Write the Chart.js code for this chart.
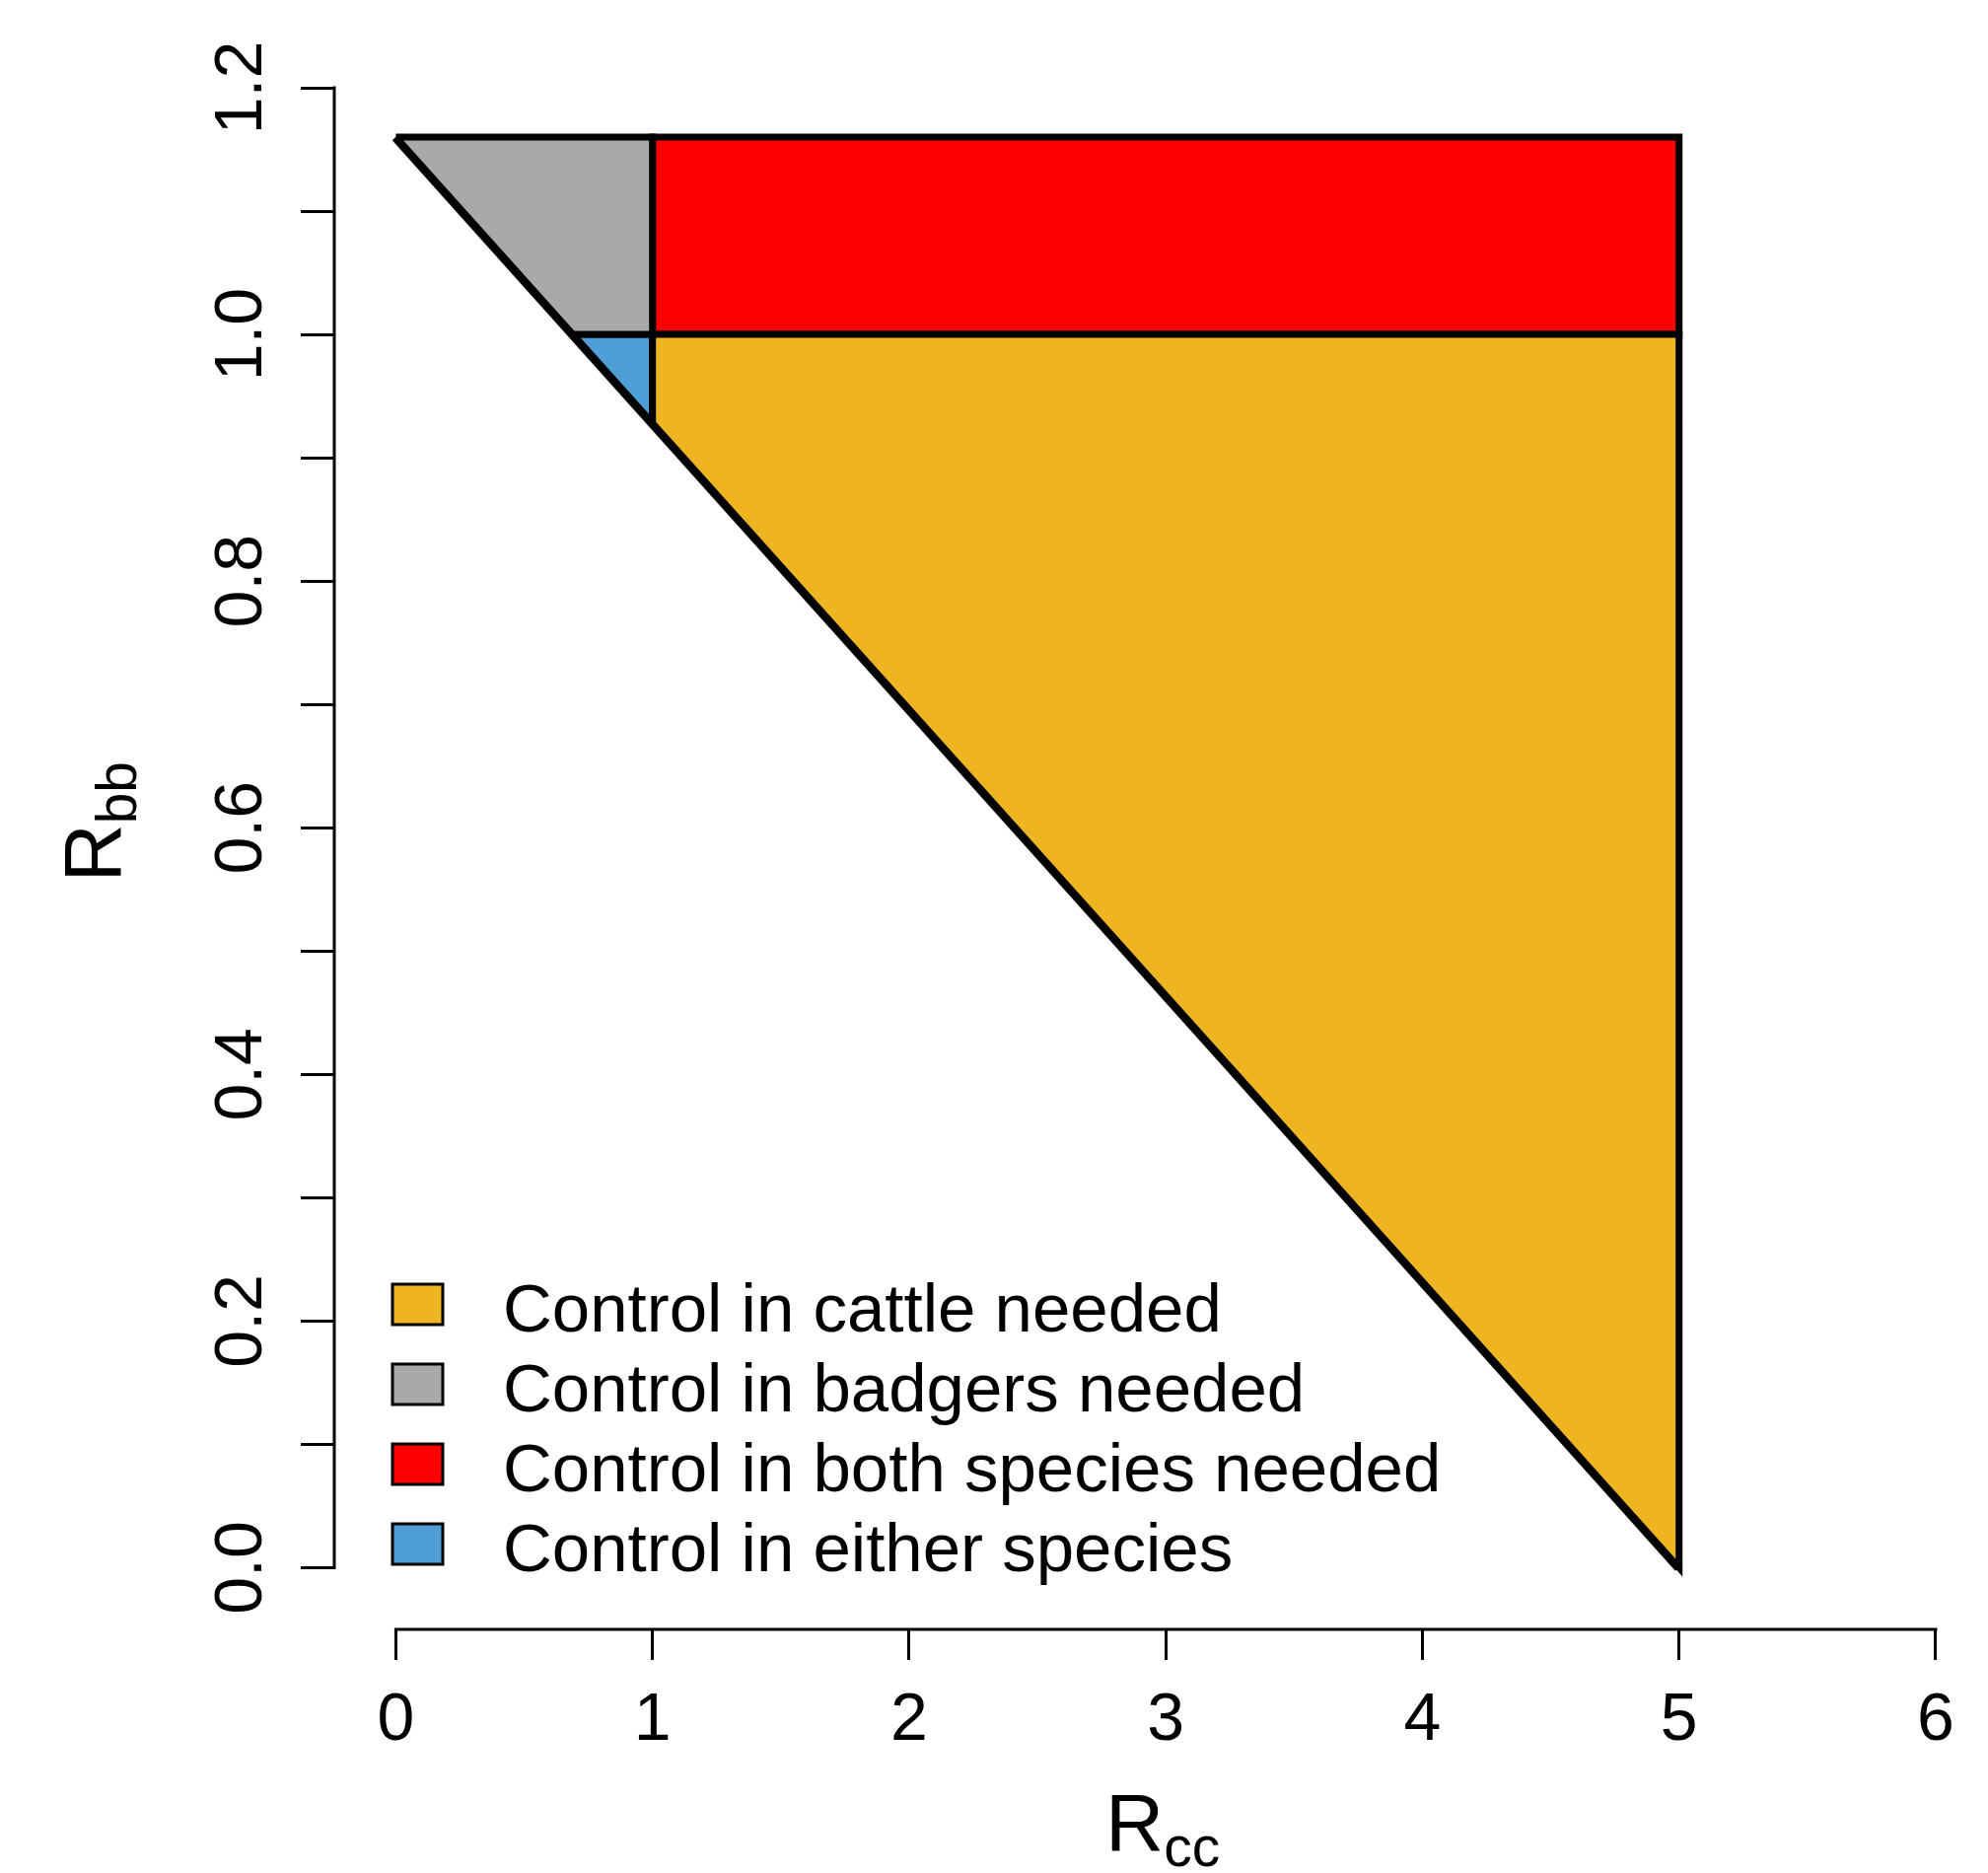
<!DOCTYPE html>
<html>
<head>
<meta charset="utf-8">
<script src="https://cdn.jsdelivr.net/npm/chart.js@4.4.1/dist/chart.umd.min.js"></script>
<style>
  html, body { margin: 0; padding: 0; background: #fff; }
  #wrap { width: 2016px; height: 1899px; }
</style>
</head>
<body>
<div id="wrap"><canvas id="regionChart" width="2016" height="1899"></canvas></div>
<script>
// regions of the (Rcc, Rbb) plane, each one a closed outline
const cattleX = [1, 5, 5, 1, 1];
const cattleY = [1, 1, 0, 0.928, 1];
const badgersX = [0, 1, 1, 0.69, 0];
const badgersY = [1.16, 1.16, 1, 1, 1.16];
const bothX = [1, 5, 5, 1, 1];
const bothY = [1, 1, 1.16, 1.16, 1];
const eitherX = [0.69, 1, 1, 0.69];
const eitherY = [1, 1, 0.928, 1];
// threshold line R0 = 1
const boundaryX = [0, 5];
const boundaryY = [1.16, 0];

const regionLabels = [
  "Control in cattle needed",
  "Control in badgers needed",
  "Control in both species needed",
  "Control in either species"
];
const regionColors = ["#EEB422", "#A9A9A9", "#FF0000", "#4F9FD6"];

const xTicks = [0, 1, 2, 3, 4, 5, 6];
const yTicks = [0, 0.1, 0.2, 0.3, 0.4, 0.5, 0.6, 0.7, 0.8, 0.9, 1.0, 1.1, 1.2];
const yTickLabels = ["0.0", "", "0.2", "", "0.4", "", "0.6", "", "0.8", "", "1.0", "", "1.2"];

const FONT = '"Liberation Sans", Arial, sans-serif';

function toPoints(xs, ys) {
  return xs.map((x, i) => ({ x: x, y: ys[i] }));
}

function region(label, xs, ys, color) {
  return {
    label: label,
    data: toPoints(xs, ys),
    showLine: true,
    fill: "shape",
    backgroundColor: color,
    borderColor: "#000",
    borderWidth: 7,
    borderJoinStyle: "miter",
    pointRadius: 0,
    tension: 0,
  };
}

// R-like axes, titles and legend drawn on top
const rStyle = {
  id: "rStyle",
  afterDraw(chart) {
    const ctx = chart.ctx;
    const xs = chart.scales.x;
    const ys = chart.scales.y;
    const area = chart.chartArea;
    ctx.save();
    ctx.strokeStyle = "#000";
    ctx.fillStyle = "#000";
    ctx.lineWidth = 3;
    ctx.lineCap = "square";

    // axis lines only span the tick range
    ctx.beginPath();
    ctx.moveTo(xs.getPixelForValue(xTicks[0]), area.bottom);
    ctx.lineTo(xs.getPixelForValue(xTicks[xTicks.length - 1]), area.bottom);
    ctx.moveTo(area.left, ys.getPixelForValue(yTicks[0]));
    ctx.lineTo(area.left, ys.getPixelForValue(yTicks[yTicks.length - 1]));
    ctx.stroke();

    // x tick labels
    ctx.font = "68px " + FONT;
    ctx.textAlign = "center";
    ctx.textBaseline = "alphabetic";
    xTicks.forEach((v) => {
      ctx.fillText(String(v), xs.getPixelForValue(v), area.bottom + 112);
    });

    // y tick labels, rotated
    yTicks.forEach((v, i) => {
      if (!yTickLabels[i]) return;
      ctx.save();
      ctx.translate(area.left - 74, ys.getPixelForValue(v));
      ctx.rotate(-Math.PI / 2);
      ctx.fillText(yTickLabels[i], 0, 0);
      ctx.restore();
    });

    // axis titles with subscripts
    function title(main, sub, cx, cy, rot) {
      ctx.save();
      ctx.translate(cx, cy);
      ctx.rotate(rot);
      ctx.textAlign = "left";
      ctx.font = "82px " + FONT;
      const w1 = ctx.measureText(main).width;
      ctx.font = "57px " + FONT;
      const w2 = ctx.measureText(sub).width;
      const x0 = -(w1 + w2) / 2;
      ctx.font = "82px " + FONT;
      ctx.fillText(main, x0, 0);
      ctx.font = "57px " + FONT;
      ctx.fillText(sub, x0 + w1, 16);
      ctx.restore();
    }
    title("R", "cc", xs.getPixelForValue(3) - 3, 1876, 0);
    title("R", "bb", 122, ys.getPixelForValue(0.6) - 6, -Math.PI / 2);

    // legend, bottom left
    ctx.font = "69px " + FONT;
    ctx.textAlign = "left";
    regionLabels.forEach((lab, i) => {
      const top = 1302 + i * 81;
      ctx.fillStyle = regionColors[i];
      ctx.fillRect(398, top, 51, 41);
      ctx.lineWidth = 3;
      ctx.strokeRect(398, top, 51, 41);
      ctx.fillStyle = "#000";
      ctx.fillText(lab, 510, top + 48);
    });
    ctx.restore();
  },
};

const ctx = document.getElementById("regionChart");

const regionChart = new Chart(ctx, {
  type: "scatter",
  data: {
    datasets: [
      region(regionLabels[0], cattleX, cattleY, regionColors[0]),
      region(regionLabels[1], badgersX, badgersY, regionColors[1]),
      region(regionLabels[2], bothX, bothY, regionColors[2]),
      region(regionLabels[3], eitherX, eitherY, regionColors[3]),
      {
        label: "boundary",
        data: toPoints(boundaryX, boundaryY),
        showLine: true,
        fill: false,
        borderColor: "#000",
        borderWidth: 10,
        pointRadius: 0,
      },
    ],
  },
  options: {
    responsive: false,
    animation: false,
    devicePixelRatio: 1,
    layout: { padding: { top: 29, right: 14, bottom: 0, left: 0 } },
    plugins: {
      legend: { display: false },
      tooltip: { enabled: false },
    },
    scales: {
      x: {
        type: "linear",
        min: -0.24,
        max: 6.15,
        afterBuildTicks: (s) => { s.ticks = xTicks.map((v) => ({ value: v })); },
        afterFit: (s) => { s.height = 247; },
        ticks: { display: false },
        border: { display: false },
        grid: { drawOnChartArea: false, drawTicks: true, tickLength: 31, tickWidth: 3, color: "#000" },
      },
      y: {
        type: "linear",
        min: -0.05,
        max: 1.248,
        afterBuildTicks: (s) => { s.ticks = yTicks.map((v) => ({ value: v })); },
        afterFit: (s) => { s.width = 339; },
        ticks: { display: false },
        border: { display: false },
        grid: { drawOnChartArea: false, drawTicks: true, tickLength: 34, tickWidth: 3, color: "#000" },
      },
    },
  },
  plugins: [rStyle],
});
</script>
</body>
</html>
